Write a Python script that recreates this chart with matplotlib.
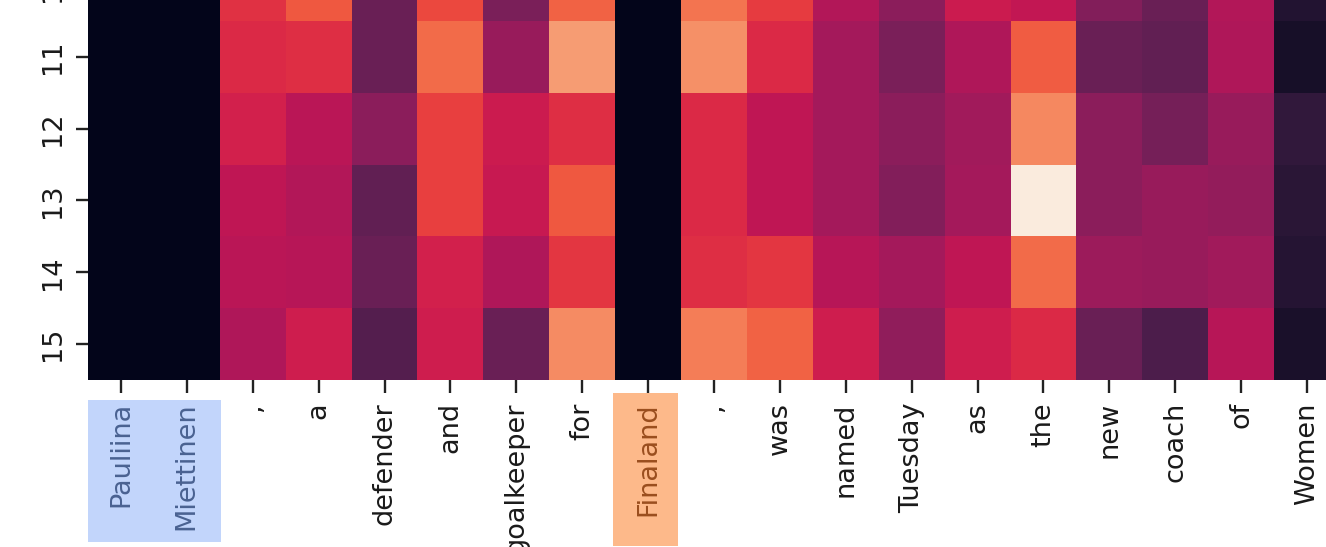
import matplotlib
matplotlib.use("Agg")
import matplotlib.pyplot as plt
from matplotlib.patches import Rectangle
import numpy as np
import seaborn as sns

tokens = ["Pauliina", "Miettinen", ",", "a", "defender", "and", "goalkeeper", "for",
          "Finaland", ",", "was", "named", "Tuesday", "as", "the", "new", "coach", "of", "Women"]
rows = ["10", "11", "12", "13", "14", "15"]

# attention scores (0 = darkest, 1 = lightest)
row10 = [0, 0, 0.57, 0.65, 0.27, 0.62, 0.31, 0.67, 0, 0.71, 0.59, 0.44, 0.35, 0.50, 0.48, 0.33, 0.27, 0.44, 0.09]
row11 = [0, 0, 0.55, 0.56, 0.27, 0.69, 0.38, 0.80, 0, 0.77, 0.55, 0.41, 0.31, 0.43, 0.66, 0.27, 0.25, 0.43, 0.06]
row12 = [0, 0, 0.52, 0.46, 0.35, 0.60, 0.50, 0.56, 0, 0.55, 0.47, 0.41, 0.35, 0.40, 0.75, 0.35, 0.30, 0.38, 0.13]
row13 = [0, 0, 0.47, 0.44, 0.25, 0.60, 0.49, 0.65, 0, 0.55, 0.47, 0.41, 0.33, 0.41, 1.00, 0.35, 0.38, 0.37, 0.11]
row14 = [0, 0, 0.46, 0.45, 0.27, 0.52, 0.43, 0.58, 0, 0.56, 0.58, 0.45, 0.41, 0.47, 0.69, 0.39, 0.38, 0.40, 0.10]
row15 = [0, 0, 0.43, 0.51, 0.22, 0.51, 0.27, 0.76, 0, 0.73, 0.67, 0.51, 0.36, 0.51, 0.55, 0.27, 0.20, 0.45, 0.07]

subject_idx = [0, 1]
object_idx = [8]

W, H = 1326, 547
fig = plt.figure(figsize=(W / 100, H / 100), dpi=100)

# the heatmap runs past the top and right edges of the picture
left, right, bottom, top = 88, 1340, 380, -51
ax = fig.add_axes([left / W, (H - bottom) / H, (right - left) / W, (bottom - top) / H])

data = np.array([row10, row11, row12, row13, row14, row15])
sns.heatmap(data, ax=ax, cmap="rocket", vmin=0, vmax=1, cbar=False,
            xticklabels=tokens, yticklabels=rows)

ax.tick_params(axis="both", labelsize=19.5, length=9, width=1.7, pad=7, color="#222222",
               labelcolor="#1a1a1a")
ax.tick_params(axis="x", labelrotation=90)
ax.tick_params(axis="y", labelrotation=90)
for t in ax.get_yticklabels():
    t.set_va("center")

xl = ax.get_xticklabels()
for i in subject_idx:
    xl[i].set_color("#4a6291")
for i in object_idx:
    xl[i].set_color("#9a4e1e")

# highlight boxes behind the subject / object tokens
def box(x0, x1, y0, y1, color):
    r = Rectangle((x0 / W, (H - y1) / H), (x1 - x0) / W, (y1 - y0) / H,
                  transform=fig.transFigure, facecolor=color, edgecolor="none", zorder=-1)
    fig.add_artist(r)

box(88, 221, 400, 542, "#c2d5fb")
box(613, 678, 393, 546, "#fdb98a")

fig.savefig("out.png", dpi=100)
